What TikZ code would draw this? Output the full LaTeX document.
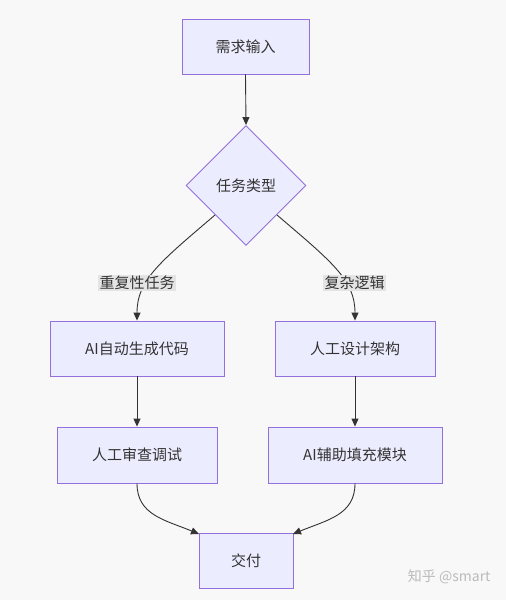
\documentclass[tikz,border=0pt]{standalone}
\usepackage{fontspec}
\setmainfont{Noto Sans CJK SC}
\usetikzlibrary{arrows.meta,shapes.geometric}
\definecolor{bgc}{HTML}{F8F8F8}
\definecolor{nfill}{HTML}{ECECFF}
\definecolor{nstroke}{HTML}{9370DB}
\definecolor{ecol}{HTML}{333333}
\definecolor{lbg}{HTML}{E4E4E4}
\definecolor{wm}{HTML}{BBBBBB}
\begin{document}
\begin{tikzpicture}[x=1pt,y=-1pt,
  every node/.style={font=\fontsize{15}{18}\selectfont, text=ecol},
  boxnode/.style={draw=nstroke, fill=nfill, line width=0.9pt, rectangle, inner sep=0pt},
  decnode/.style={draw=nstroke, fill=nfill, line width=0.9pt, diamond, minimum width=120pt, minimum height=120pt, inner sep=0pt},
  lblnode/.style={fill=lbg, inner sep=1.5pt},
  flow/.style={draw=ecol, line width=0.9pt, -{Triangle[length=8pt,width=7pt]}}
]
\fill[bgc] (0,0) rectangle (506,600);
\useasboundingbox (0,0) rectangle (506,600);

\node[boxnode, minimum width=127pt, minimum height=55pt] (in) at (245.5,46.5) {需求输入};
\node[decnode] (dec) at (246,185.5) {任务类型};
\node[boxnode, minimum width=174pt, minimum height=55pt] (ai1) at (137,348.5) {AI自动生成代码};
\node[boxnode, minimum width=160pt, minimum height=55pt] (hu1) at (355,348.5) {人工设计架构};
\node[boxnode, minimum width=160pt, minimum height=56pt] (hu2) at (137,455) {人工审查调试};
\node[boxnode, minimum width=174pt, minimum height=56pt] (ai2) at (355,455) {AI辅助填充模块};
\node[boxnode, minimum width=94pt, minimum height=55pt] (out) at (246,560.5) {交付};

\coordinate (dl) at (215,215);
\coordinate (dr) at (277,215);
\coordinate (ol) at (199,534);
\coordinate (or) at (293,534);

\draw[flow] (in.south) -- (dec.north);
\draw[flow] (dl) .. controls (160,262) and (137,280) .. (ai1.north);
\draw[flow] (dr) .. controls (332,262) and (355,280) .. (hu1.north);
\draw[flow] (ai1.south) -- (hu2.north);
\draw[flow] (hu1.south) -- (ai2.north);
\draw[flow] (hu2.south) .. controls (137,515) and (165,520) .. (ol);
\draw[flow] (ai2.south) .. controls (355,515) and (327,520) .. (or);

\node[lblnode] (l1) at (137,283) {重复性任务};
\node[lblnode] (l2) at (354.5,283) {复杂逻辑};

\node[font=\fontsize{14}{16}\selectfont, text=wm, anchor=east] (wmk) at (494,577) {知乎 @smart};
\end{tikzpicture}
\end{document}
